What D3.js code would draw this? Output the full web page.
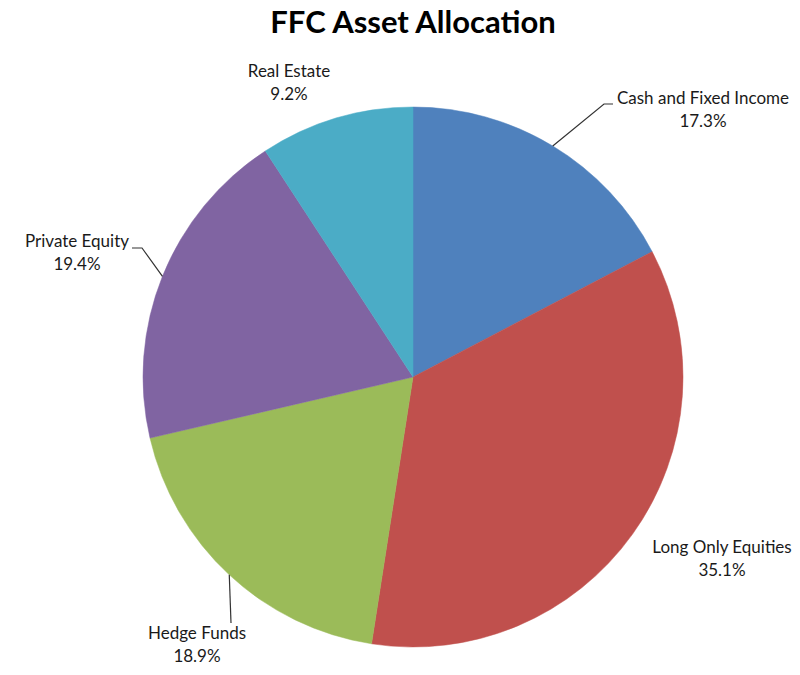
<!DOCTYPE html>
<html>
<head>
<meta charset="utf-8">
<script src="https://cdn.jsdelivr.net/npm/d3@7"></script>
<style>
  body { margin: 0; background: #fff; }
  text { font-family: Lato, "Open Sans", sans-serif; fill: #1a1a1a; }
</style>
</head>
<body>
<div id="chart"></div>
<script>
var width = 800, height = 675;

// data
var categories = ["Cash and Fixed Income", "Long Only Equities", "Hedge Funds", "Private Equity", "Real Estate"];
var shares = [17.3, 35.1, 18.9, 19.4, 9.2];
var colours = ["#4F81BD", "#C0504D", "#9BBB59", "#8064A2", "#4BACC6"];

// label placement (centre x, first baseline y) and leader elbow, per slice
var labelPos = [
  {x: 703, y: 104, leader: [[604, 104], [613, 104]]},
  {x: 722, y: 553, leader: null},
  {x: 197, y: 639, leader: [[231, 623]]},
  {x: 77,  y: 247, leader: [[142, 248], [132, 248]]},
  {x: 289, y: 77,  leader: null}
];

var cx = 413, cy = 377, radius = 270;
var fmt = d3.format(".1f");

var svg = d3.select("#chart")
  .append("svg")
  .attr("width", width)
  .attr("height", height)
  .style("display", "block");

svg.append("text")
  .attr("x", 413)
  .attr("y", 33)
  .attr("text-anchor", "middle")
  .style("font-size", "31px")
  .style("font-weight", "bold")
  .style("fill", "#000")
  .text("FFC Asset Allocation");

var pie = d3.pie().sort(null).value(function(d) { return d; });
var arcs = pie(shares);

var arc = d3.arc().innerRadius(0).outerRadius(radius);

var g = svg.append("g")
  .attr("transform", "translate(" + cx + "," + cy + ")");

g.selectAll("path.slice")
  .data(arcs)
  .enter()
  .append("path")
  .attr("class", "slice")
  .attr("d", arc)
  .style("fill", function(d, i) { return colours[i]; })
  .style("stroke", function(d, i) { return colours[i]; })
  .style("stroke-width", 0.5);

// leader lines from the slice edge at its mid angle
arcs.forEach(function(d, i) {
  var lp = labelPos[i];
  if (!lp.leader) return;
  var mid = (d.startAngle + d.endAngle) / 2;
  var pts = [[cx + radius * Math.sin(mid), cy - radius * Math.cos(mid)]].concat(lp.leader);
  svg.append("path")
    .attr("d", d3.line()(pts))
    .style("fill", "none")
    .style("stroke", "#333")
    .style("stroke-width", 1.2);
});

// labels
arcs.forEach(function(d, i) {
  var lp = labelPos[i];
  var t = svg.append("text")
    .attr("text-anchor", "middle")
    .style("font-size", "17px");
  t.append("tspan").attr("x", lp.x).attr("y", lp.y).text(categories[i]);
  t.append("tspan").attr("x", lp.x).attr("y", lp.y + 23).text(fmt(shares[i]) + "%");
});
</script>
</body>
</html>
